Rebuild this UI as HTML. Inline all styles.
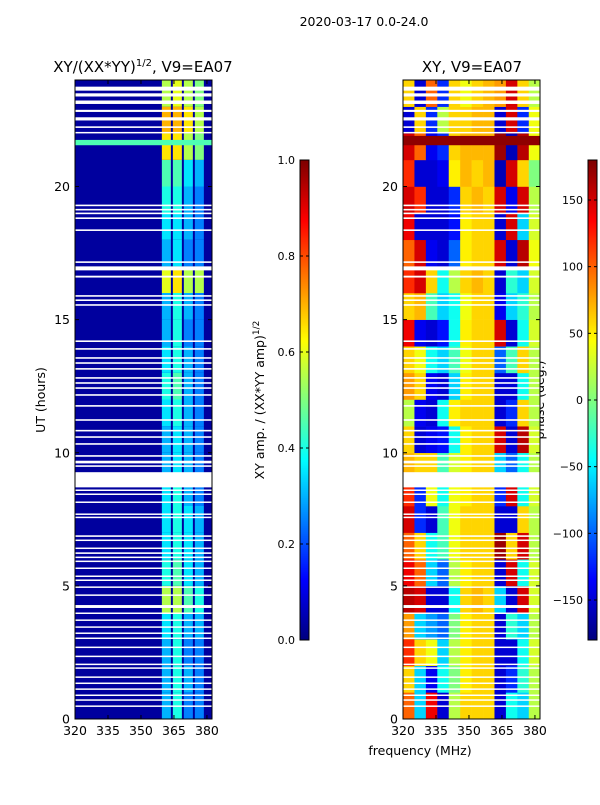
<!DOCTYPE html>
<html><head><meta charset="utf-8"><style>
body{margin:0;background:#fff}
svg text{font-family:"DejaVu Sans","Liberation Sans",sans-serif;fill:#000}
</style></head><body>
<svg id="fig" width="600" height="800" xmlns="http://www.w3.org/2000/svg">
<text x="364" y="26" font-size="12.5" text-anchor="middle">2020-03-17 0.0-24.0</text>
<text x="143" y="72" font-size="15" text-anchor="middle">XY/(XX*YY)<tspan font-size="10" dy="-6">1/2</tspan><tspan dy="6">, V9=EA07</tspan></text>
<text x="472" y="72" font-size="15" text-anchor="middle">XY, V9=EA07</text>
<text transform="translate(45,400) rotate(-90)" font-size="12.5" text-anchor="middle">UT (hours)</text>
<text transform="translate(264,400) rotate(-90)" font-size="12.5" text-anchor="middle">XY amp. / (XX*YY amp)<tspan font-size="9" dy="-5">1/2</tspan></text>
<text transform="translate(544,400) rotate(-90)" font-size="12.5" text-anchor="middle">phase (deg.)</text>
<text x="420" y="755" font-size="12.5" text-anchor="middle">frequency (MHz)</text>
<g id="g"></g>
</svg>
<script>
// ---- data ----
const freqTicks=[320,335,350,365,380];
const hourTicks=[0,5,10,15,20];
const ampTicks=[0.0,0.2,0.4,0.6,0.8,1.0];
const phaseTicks=[-150,-100,-50,0,50,100,150];
const stripeBands=[[359.5,363.6],[364.5,368.6],[369.5,373.6],[374.5,378.6]];
const ampBackground=0.03;
const stripeAmp=[[0.3,0.4,0.25,0.25],[0.3,0.4,0.3,0.25],[0.3,0.4,0.25,0.25],[0.35,0.4,0.3,0.3],[0.55,0.55,0.45,0.4],[0.4,0.45,0.35,0.3],[0.35,0.4,0.35,0.3],[0.35,0.4,0.35,0.3],[0.35,0.4,0.3,0.25],[0.3,0.35,0.3,0.25],[0.3,0.35,0.3,0.25],[0.35,0.4,0.3,0.25],[0.4,0.45,0.3,0.25],[0.35,0.4,0.3,0.25],[0.3,0.4,0.25,0.25],[0.3,0.4,0.3,0.25],[0.6,0.65,0.55,0.55],[0.3,0.35,0.25,0.25],[0.35,0.35,0.3,0.25],[0.4,0.4,0.3,0.25],[0.45,0.45,0.35,0.3],[0.65,0.65,0.55,0.5],[0.7,0.7,0.65,0.55],[0.55,0.6,0.55,0.5]];
const broadband=[[21.55,21.75,0.45]];
const phaseFreqEdges=[320,325.2,330.4,335.6,340.8,346,351.2,356.4,361.6,366.8,372,377.2,382.3];
const phaseRows=[
[100,-60,140,-150,20,60,60,60,-150,-40,-60,20],
[60,-60,-140,-40,0,50,60,60,-150,-120,-30,20],
[120,60,40,-60,20,50,60,60,-150,-150,-40,30],
[80,-60,-80,-100,0,50,60,60,-150,-30,-60,20],
[160,150,-150,-150,-40,60,70,60,-60,-150,150,30],
[140,100,-60,-100,20,50,60,60,-150,150,-40,30],
[100,60,-40,-20,40,60,60,60,170,60,150,20],
[150,-120,-150,-20,40,60,60,60,-150,-150,60,20],
[120,-120,40,-40,40,50,60,60,-120,150,-40,30],
[70,60,60,-20,30,50,60,60,-60,-100,-40,20],
[60,-150,-140,-130,-40,50,60,60,150,-150,160,30],
[20,-140,-150,-40,50,60,60,60,-150,-120,60,20],
[80,60,-140,-150,-60,50,60,60,-150,-150,-40,20],
[60,40,-40,-60,-20,40,60,60,-100,-20,60,20],
[140,-140,-150,-130,-40,50,60,60,150,-150,-40,30],
[60,70,-20,-60,-40,40,60,60,-140,-60,-30,20],
[120,150,60,-40,20,60,70,60,-150,-30,-60,30],
[100,150,-140,-150,-100,50,60,60,150,-150,160,40],
[140,-150,-150,-150,-130,50,60,60,-150,150,-60,30],
[150,120,-150,-150,-120,60,70,60,150,-140,150,20],
[120,-150,-150,-140,50,70,60,70,-160,150,60,0],
[150,100,-140,-120,60,70,70,70,170,-160,160,40],
[-150,60,-120,20,60,60,70,70,-150,150,-120,40],
[60,-150,100,-120,60,40,60,70,80,150,60,20]];
const phaseBands=[[21.55,21.9,175]];
const flags=[[23.6,23.75],[23.38,23.5],[23.1,23.23],[22.8,22.88],[22.48,22.6],[22.2,22.26],[22.0,22.05],[19.26,19.32],[19.1,19.16],[18.96,19.02],[18.78,18.84],[18.33,18.39],[17.13,17.19],[16.85,17.0],[16.58,16.65],[15.86,15.92],[15.7,15.76],[15.52,15.58],[14.16,14.22],[13.87,13.93],[13.53,13.59],[13.34,13.4],[13.12,13.18],[12.78,12.84],[12.59,12.65],[12.4,12.46],[12.14,12.2],[11.73,11.79],[11.2,11.26],[10.8,10.86],[10.56,10.62],[10.3,10.36],[9.85,9.91],[9.6,9.7],[9.47,9.53],[8.7,9.27],[8.57,8.62],[8.42,8.47],[8.12,8.17],[7.67,7.72],[7.55,7.6],[6.84,6.9],[6.69,6.74],[6.39,6.44],[6.2,6.26],[6.05,6.1],[5.9,5.95],[5.64,5.69],[5.34,5.39],[5.19,5.24],[4.93,4.98],[4.63,4.68],[4.17,4.28],[3.96,4.0],[3.7,3.74],[3.44,3.48],[3.21,3.25],[3.02,3.06],[2.68,2.72],[2.34,2.38],[2.04,2.08],[1.9,1.94],[1.56,1.6],[1.33,1.37],[1.11,1.15],[0.88,0.92],[0.7,0.74],[0.47,0.51]];

// ---- helpers ----
const NS="http://www.w3.org/2000/svg";
const G=document.getElementById('g');
function mk(t,a,p){const e=document.createElementNS(NS,t);for(const k in a)e.setAttribute(k,a[k]);(p||G).appendChild(e);return e;}
function jet(v){v=Math.max(0,Math.min(1,v));
 const r=Math.max(0,Math.min(1,1.5-Math.abs(4*v-3))),g=Math.max(0,Math.min(1,1.5-Math.abs(4*v-2))),b=Math.max(0,Math.min(1,1.5-Math.abs(4*v-1)));
 return `rgb(${Math.round(r*255)},${Math.round(g*255)},${Math.round(b*255)})`;}
const FMIN=320,FMAX=382.3,TOP=80,BOT=719;
function hy(h){return BOT-(h/24)*(BOT-TOP);}
function fx(x0,f){return x0+(f-FMIN)/(FMAX-FMIN)*137;}
const ampY=v=>640-v*480, phY=v=>400-v*(480/360);

function panel(name){
 const grp=mk('g',{});
 
 
 return grp;}

// left amplitude panel
const L=panel('amplitude-heatmap');
const bg=mk('rect',{x:75,y:TOP,width:137,height:BOT-TOP,fill:jet(ampBackground)},L);


stripeAmp.forEach((row,h)=>{row.forEach((v,c)=>{
 const b=stripeBands[c];
 const r=mk('rect',{x:fx(75,b[0]),y:hy(h+1),width:fx(75,b[1])-fx(75,b[0]),height:hy(h)-hy(h+1),fill:jet(v)},L);
 
 
});});
broadband.forEach(b=>{const r=mk('rect',{x:75,y:hy(b[1]),width:137,height:hy(b[0])-hy(b[1]),fill:jet(b[2])},L);
 
 });

// right phase panel
const R=panel('phase-heatmap');
phaseRows.forEach((row,h)=>{row.forEach((v,c)=>{
 const x1=fx(403,phaseFreqEdges[c]),x2=fx(403,phaseFreqEdges[c+1]);
 const r=mk('rect',{x:x1,y:hy(h+1),width:x2-x1+0.3,height:hy(h)-hy(h+1)+0.3,fill:jet((v+180)/360)},R);
 
 
});});
phaseBands.forEach(b=>{const r=mk('rect',{x:403,y:hy(b[1]),width:137,height:hy(b[0])-hy(b[1]),fill:jet((b[2]+180)/360)},R);
 
 });

// flags (white rows) on both panels
[75,403].forEach(x0=>{flags.forEach(f=>{
 const r=mk('rect',{x:x0,y:hy(f[1]),width:137,height:Math.max(1.5,hy(f[0])-hy(f[1])),fill:'#fff'});
 
 
});});

// frames and ticks
[75,403].forEach((x0,i)=>{
 const fr=mk('rect',{x:x0,y:TOP,width:137,height:BOT-TOP,fill:'none',stroke:'#000','stroke-width':1});
 
 
 freqTicks.forEach(f=>{const x=fx(x0,f);
  mk('line',{x1:x,x2:x,y1:BOT,y2:BOT-4,stroke:'#000'});mk('line',{x1:x,x2:x,y1:TOP,y2:TOP+4,stroke:'#000'});
  const t=mk('text',{x:x,y:BOT+16,'font-size':12.5,'text-anchor':'middle'});t.textContent=f;
  
  });
 hourTicks.forEach(h=>{const y=hy(h);
  mk('line',{x1:x0,x2:x0+4,y1:y,y2:y,stroke:'#000'});mk('line',{x1:x0+137,x2:x0+133,y1:y,y2:y,stroke:'#000'});
  const t=mk('text',{x:x0-5,y:y+4.5,'font-size':12.5,'text-anchor':'end'});t.textContent=h;
  
  });
});

// colorbars
function colorbar(x0,name,ticks,ymap,isAmp){
 const cg=mk('g',{});
 
 
 for(let i=0;i<240;i++){mk('rect',{x:x0,y:640-(i+1)*2,width:9,height:2.3,fill:jet(i/239)},cg);}
 mk('rect',{x:x0,y:160,width:9,height:480,fill:'none',stroke:'#000','stroke-width':1},cg);
 ticks.forEach(v=>{const y=ymap(v);
  mk('line',{x1:x0,x2:x0+3,y1:y,y2:y,stroke:'#000'},cg);mk('line',{x1:x0+9,x2:x0+6,y1:y,y2:y,stroke:'#000'},cg);
  const t=mk('text',{x:x0-5,y:y+4,'font-size':11,'text-anchor':'end'},cg);
  t.textContent=isAmp?v.toFixed(1):(v<0?'\u2212'+(-v):String(v));
  
  });
}
colorbar(300,'amp-colorbar',ampTicks,ampY,true);
colorbar(588,'phase-colorbar',phaseTicks,phY,false);
</script>
</body></html>
